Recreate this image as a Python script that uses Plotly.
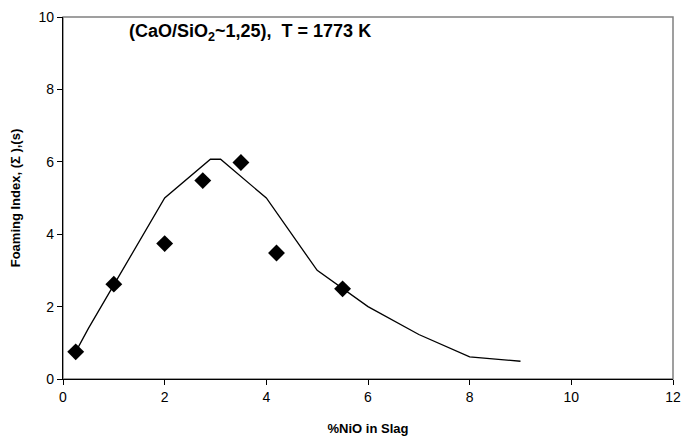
import plotly.graph_objects as go

# Measured points (diamonds)
meas_x = [0.25, 1.0, 2.0, 2.75, 3.5, 4.2, 5.5]
meas_y = [0.75, 2.62, 3.74, 5.48, 5.98, 3.48, 2.49]

# Model line
line_x = [0.25, 0.5, 1.0, 2.0, 2.9, 3.1, 4.0, 5.0, 6.0, 7.0, 8.0, 9.0]
line_y = [0.75, 1.4, 2.6, 5.0, 6.07, 6.07, 5.0, 3.0, 2.0, 1.23, 0.61, 0.49]

x_ticks = [0, 2, 4, 6, 8, 10, 12]
y_ticks = [0, 2, 4, 6, 8, 10]

font = "Liberation Sans, Arial, sans-serif"

fig = go.Figure()
fig.add_trace(go.Scatter(x=line_x, y=line_y, mode="lines",
                         line=dict(color="black", width=1.3),
                         showlegend=False, hoverinfo="skip"))
fig.add_trace(go.Scatter(x=meas_x, y=meas_y, mode="markers",
                         marker=dict(symbol="diamond", size=13, color="black"),
                         showlegend=False))

fig.update_layout(
    width=690, height=442,
    margin=dict(l=63, r=9, t=15, b=60),
    paper_bgcolor="white", plot_bgcolor="white",
    font=dict(family=font, size=14, color="black"),
    shapes=[dict(type="rect", xref="paper", yref="paper", x0=0, y0=0, x1=1, y1=1,
                 line=dict(color="#808080", width=1.5), layer="below")],
    annotations=[dict(text="<b>(CaO/SiO<sub>2</sub>~1,25),  T = 1773 K</b>",
                      x=1.25, y=9.56, xref="x", yref="y", xanchor="left", yanchor="middle",
                      showarrow=False, font=dict(size=18, family=font))],
)
fig.update_xaxes(range=[0, 12], tickvals=x_ticks, ticks="outside", ticklen=5,
                 tickcolor="black", showline=True, linecolor="black", linewidth=1.3,
                 showgrid=False, zeroline=False,
                 title=dict(text="<b>%NiO in Slag</b>", font=dict(size=13), standoff=19),
                 tickfont=dict(size=14))
fig.update_yaxes(range=[0, 10], tickvals=y_ticks, ticks="outside", ticklen=5,
                 tickcolor="black", showline=True, linecolor="black", linewidth=1.3,
                 showgrid=False, zeroline=False,
                 title=dict(text="<b>Foaming Index, (Σ ),(s)</b>", font=dict(size=13), standoff=14),
                 tickfont=dict(size=14))

fig.write_html("out.html")
